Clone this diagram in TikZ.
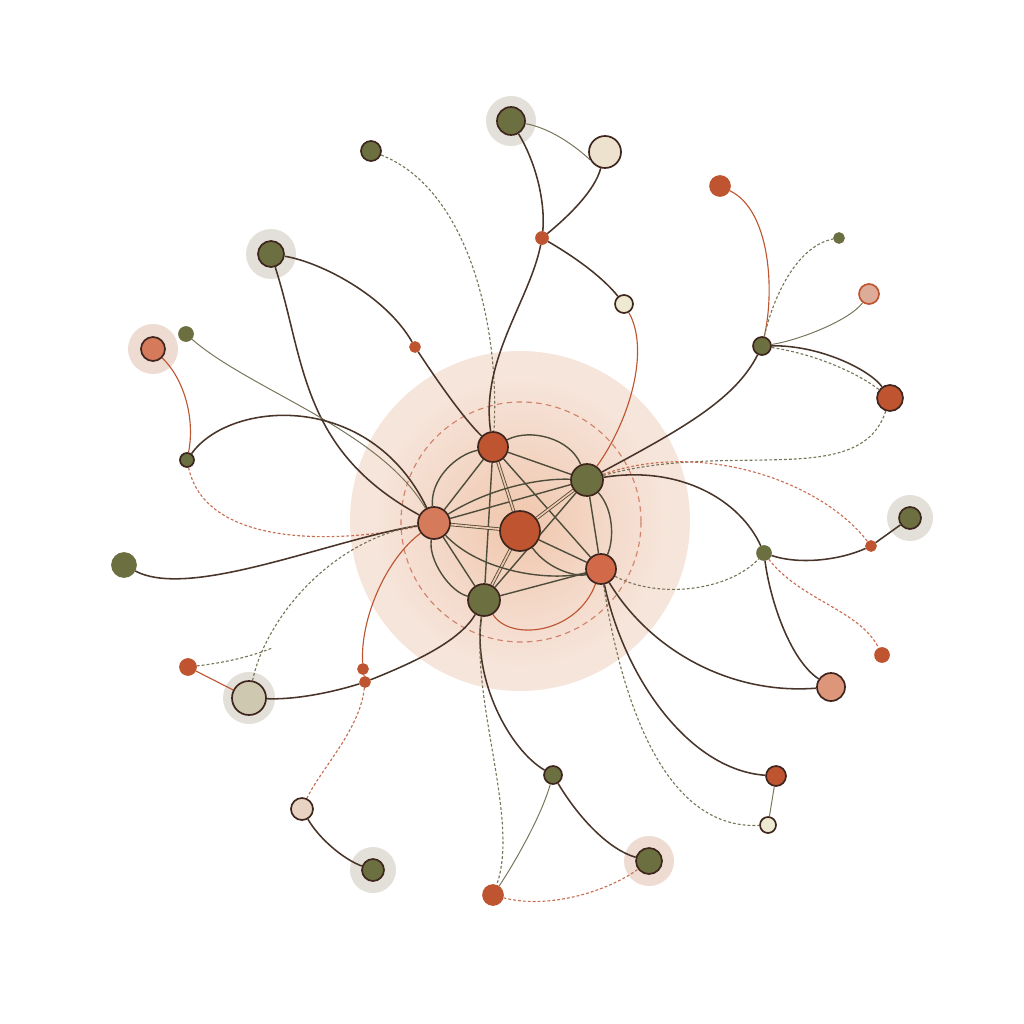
\documentclass[tikz,border=0pt]{standalone}
\usetikzlibrary{backgrounds}
\definecolor{moss}{RGB}{108,112,64}
\definecolor{rust}{RGB}{190,84,48}
\definecolor{coral}{RGB}{213,122,90}
\definecolor{flame}{RGB}{210,106,74}
\definecolor{blush}{RGB}{222,150,122}
\definecolor{cream}{RGB}{237,226,206}
\definecolor{paper}{RGB}{238,234,210}
\definecolor{sand}{RGB}{206,200,176}
\definecolor{rose}{RGB}{220,172,152}
\definecolor{skin}{RGB}{232,210,194}
\definecolor{ink}{RGB}{62,38,30}
\definecolor{wirec}{RGB}{72,52,40}
\definecolor{corec}{RGB}{78,76,58}
\definecolor{reed}{RGB}{120,116,88}
\definecolor{clay}{RGB}{200,108,80}
\definecolor{peach}{RGB}{246,229,219}
\definecolor{peachdeep}{RGB}{240,198,172}
\definecolor{haze}{RGB}{226,224,216}
\definecolor{hazerose}{RGB}{238,220,210}
\pgfdeclarelayer{back}
\pgfdeclarelayer{edges}
\pgfsetlayers{back,edges,main}
\begin{document}
\begin{tikzpicture}[x=0.25mm,y=-0.25mm,
	dot/.style={circle,draw=ink,line width=1.2pt,inner sep=0pt,minimum size=#1*0.5mm},
	wire/.style={draw=wirec,line width=1.1pt},
	faint/.style={draw=reed,line width=0.7pt},
	rustline/.style={draw=rust,line width=0.8pt},
	olivedash/.style={draw=reed,line width=0.8pt,dash pattern=on 2pt off 1.5pt},
	rustdash/.style={draw=clay,line width=0.8pt,dash pattern=on 2pt off 1.5pt},
	coreline/.style={draw=corec,line width=1pt},
	twin/.style={draw=corec,line width=0.6pt,double=peachdeep,double distance=1.2pt}]
	\useasboundingbox (0,0) rectangle (1024,1024);
	%halo
	\begin{pgfonlayer}{back}
		\fill[peach] (520,521) circle [radius=170];
		\shade[inner color=peachdeep,outer color=peach] (520,523) circle [radius=145];
		\draw[clay!85,line width=0.8pt,dash pattern=on 4pt off 3pt] (521,522) circle [radius=120];
		\foreach \x/\y/\r/\col in {511/121/25/haze,271/254/25/haze,153/349/25/hazerose,
			910/518/23/haze,649/861/25/hazerose,373/870/23/haze,249/698/26/haze}
			\fill[\col] (\x,\y) circle [radius=\r];
	\end{pgfonlayer}
	%core
	\node[dot=20,fill=rust] (c0) at (520,531) {};
	\node[dot=15,fill=rust] (c1) at (493,447) {};
	\node[dot=16,fill=moss] (c2) at (587,480) {};
	\node[dot=16,fill=coral] (c3) at (434,523) {};
	\node[dot=15,fill=flame] (c4) at (601,569) {};
	\node[dot=16,fill=moss] (c5) at (484,600) {};
	%outer
	\foreach \name/\x/\y/\r/\col/\rim in {a1/511/121/14/moss/ink,a2/605/152/16/cream/ink,
		a3/542/238/6/rust/rust,a4/624/304/9/paper/ink,a5/371/151/10/moss/ink,
		a6/271/254/13/moss/ink,a7/415/347/5/rust/rust,a8/153/349/12/coral/ink,
		a9/186/334/7/moss/moss,a10/187/460/7/moss/ink,a11/124/565/12/moss/moss,
		a12/720/186/10/rust/rust,a13/839/238/5/moss/moss,a14/869/294/10/rose/rust,
		a15/762/346/9/moss/ink,a16/890/398/13/rust/ink,a17/910/518/11/moss/ink,
		a18/871/546/5/rust/rust,a19/764/553/7/moss/moss,a20/882/655/7/rust/rust,
		a21/831/687/14/blush/ink,a22/776/776/10/rust/ink,a23/768/825/8/paper/ink,
		a24/649/861/13/moss/ink,a25/553/775/9/moss/ink,a26/493/895/10/rust/rust,
		a27/373/870/11/moss/ink,a28/302/809/11/skin/ink,a29/249/698/17/sand/ink,
		a30/188/667/8/rust/rust,a31/363/669/5/rust/rust,a32/365/682/5/rust/rust}
		\node[dot=\r,fill=\col,draw=\rim] (\name) at (\x,\y) {};
	\coordinate (m1) at (272,648);
	\begin{pgfonlayer}{edges}
		% core links
		\foreach \a/\b in {c1/c2,c1/c3,c1/c4,c1/c5,c3/c2,c2/c5,c2/c4,c5/c4,c0/c4,c3/c5}
			\draw[coreline] (\a) -- (\b);
		\foreach \a in {c1,c2,c3,c5}
			\draw[twin] (\a) -- (c0);
		\draw[coreline] (c1) .. controls (530,428) and (570,438) .. (c2);
		\draw[coreline] (c1) .. controls (455,455) and (430,480) .. (c3);
		\draw[coreline] (c3) .. controls (490,488) and (540,478) .. (c2);
		\draw[coreline] (c3) .. controls (480,572) and (550,582) .. (c4);
		\draw[coreline] (c3) .. controls (428,560) and (450,592) .. (c5);
		\draw[coreline] (c0) .. controls (550,572) and (580,577) .. (c4);
		\draw[coreline] (c2) .. controls (614,510) and (614,540) .. (c4);
		\draw[rustline] (c5) .. controls (510,642) and (577,634) .. (c4);
		% north west
		\draw[wire] (a6) .. controls (320,262) and (385,295) .. (a7);
		\draw[wire] (a7) .. controls (440,385) and (465,420) .. (c1);
		\draw[wire] (a6) .. controls (305,360) and (300,450) .. (c3);
		\draw[faint] (a9) .. controls (250,390) and (380,430) .. (c3);
		\draw[wire] (a10) .. controls (230,400) and (370,390) .. (c3);
		\draw[rustline] (a8) .. controls (185,380) and (195,420) .. (a10);
		\draw[rustdash] (a10) .. controls (205,545) and (330,545) .. (c3);
		\draw[wire] (a11) .. controls (190,600) and (330,540) .. (c3);
		\draw[olivedash] (a5) .. controls (470,190) and (500,330) .. (c1);
		% north
		\draw[wire] (a1) .. controls (540,170) and (545,210) .. (a3);
		\draw[faint] (a1) .. controls (560,130) and (590,160) .. (a2);
		\draw[wire] (a2) .. controls (595,190) and (570,215) .. (a3);
		\draw[wire] (a3) .. controls (530,300) and (480,360) .. (c1);
		\draw[wire] (a3) .. controls (580,260) and (605,280) .. (a4);
		\draw[rustline] (c2) .. controls (630,420) and (650,350) .. (a4);
		% north east
		\draw[wire] (c2) .. controls (680,430) and (735,400) .. (a15);
		\draw[rustline] (a15) .. controls (775,290) and (770,210) .. (a12);
		\draw[olivedash] (a15) .. controls (775,290) and (800,245) .. (a13);
		\draw[faint] (a15) .. controls (800,340) and (850,320) .. (a14);
		\draw[wire] (a15) .. controls (820,345) and (870,370) .. (a16);
		\draw[olivedash] (a15) .. controls (820,355) and (860,375) .. (a16);
		\draw[olivedash] (c2) .. controls (730,440) and (860,490) .. (a16);
		\draw[rustdash] (c2) .. controls (700,440) and (820,480) .. (a18);
		% east
		\draw[wire] (c2) .. controls (680,465) and (740,500) .. (a19);
		\draw[wire] (a19) .. controls (800,565) and (840,560) .. (a18);
		\draw[wire] (a18) -- (a17);
		\draw[rustdash] (a19) .. controls (800,600) and (860,610) .. (a20);
		\draw[wire] (a19) .. controls (770,600) and (790,660) .. (a21);
		\draw[olivedash] (c4) .. controls (660,600) and (730,590) .. (a19);
		% south east
		\draw[wire] (c4) .. controls (650,650) and (730,695) .. (a21);
		\draw[wire] (c4) .. controls (625,680) and (690,770) .. (a22);
		\draw[olivedash] (c4) .. controls (620,690) and (660,830) .. (a23);
		\draw[faint] (a22) -- (a23);
		% south
		\draw[wire] (c5) .. controls (472,680) and (510,750) .. (a25);
		\draw[olivedash] (c5) .. controls (470,700) and (520,820) .. (a26);
		\draw[faint] (a25) .. controls (540,820) and (510,870) .. (a26);
		\draw[wire] (a25) .. controls (580,820) and (610,850) .. (a24);
		\draw[rustdash] (a26) .. controls (550,910) and (610,890) .. (a24);
		% south west
		\draw[wire] (a29) .. controls (300,700) and (340,690) .. (a32);
		\draw[wire] (a32) .. controls (420,660) and (460,640) .. (c5);
		\draw[rustline] (c3) .. controls (385,560) and (360,620) .. (a31);
		\draw[rustline] (a31) -- (a32);
		\draw[rustdash] (a32) .. controls (360,730) and (320,770) .. (a28);
		\draw[wire] (a28) .. controls (320,840) and (345,860) .. (a27);
		\draw[olivedash] (a29) .. controls (265,620) and (330,540) .. (c3);
		\draw[rustline] (a30) -- (a29);
		\draw[olivedash] (a30) .. controls (230,662) and (255,655) .. (m1);
	\end{pgfonlayer}
\end{tikzpicture}
\end{document}
